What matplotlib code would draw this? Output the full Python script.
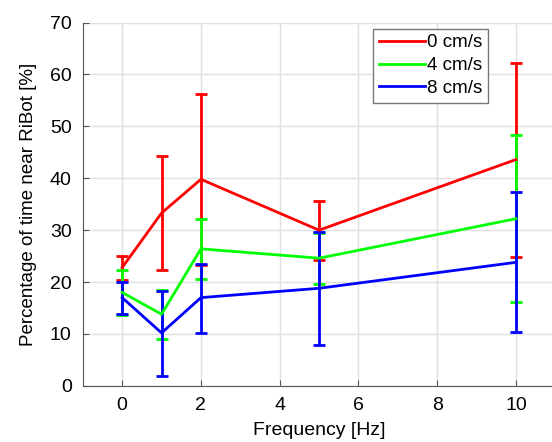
import matplotlib

matplotlib.use("Agg")
import matplotlib.pyplot as plt
import numpy as np
from matplotlib.lines import Line2D

plt.rcParams["font.family"] = ["Liberation Sans", "DejaVu Sans"]

frequencies = [0, 1, 2, 5, 10]
speed_labels = ["0 cm/s", "4 cm/s", "8 cm/s"]
series_colors = ["#FF0000", "#00FF00", "#0000FF"]

mean_0 = [22.8, 33.3, 39.8, 30.0, 43.6]
lower_0 = [20.4, 22.4, 23.3, 24.2, 24.8]
upper_0 = [25.0, 44.2, 56.3, 35.6, 62.3]

mean_4 = [18.0, 13.8, 26.4, 24.6, 32.2]
lower_4 = [13.6, 9.0, 20.5, 19.7, 16.2]
upper_4 = [22.3, 18.4, 32.1, 29.4, 48.3]

mean_8 = [17.0, 10.2, 17.0, 18.8, 23.8]
lower_8 = [13.8, 1.9, 10.2, 7.9, 10.3]
upper_8 = [20.0, 18.2, 23.5, 29.7, 37.3]

figure = plt.figure(figsize=(5.52, 4.42), dpi=100)
axis = figure.add_axes([0.150, 0.127, 0.856, 0.822])

for label, color, mean, lower, upper in zip(
    speed_labels,
    series_colors,
    (mean_0, mean_4, mean_8),
    (lower_0, lower_4, lower_8),
    (upper_0, upper_4, upper_8),
):
    mean = np.asarray(mean)
    errors = [mean - np.asarray(lower), np.asarray(upper) - mean]
    axis.errorbar(
        frequencies,
        mean,
        yerr=errors,
        color=color,
        linewidth=2.0,
        elinewidth=2.0,
        capsize=4,
        capthick=2.0,
    )

axis.set_xlim(-1, 11)
axis.set_ylim(0, 70)
axis.set_xticks([0, 2, 4, 6, 8, 10])
axis.set_yticks(range(0, 71, 10))
axis.grid(color="#e0e0e0", linewidth=1.0)
axis.set_axisbelow(True)
axis.spines["top"].set_visible(False)
axis.spines["right"].set_visible(False)
for side in ("left", "bottom"):
    axis.spines[side].set_color("#555555")
axis.tick_params(direction="in", length=4, color="#555555", labelsize=14, pad=8)
axis.set_xlabel("Frequency [Hz]", fontsize=14, labelpad=6)
axis.set_ylabel("Percentage of time near RiBot [%]", fontsize=13.5, labelpad=9)

legend_handles = [Line2D([], [], color=color, linewidth=2.0) for color in series_colors]
legend = axis.legend(
    legend_handles,
    speed_labels,
    loc="upper left",
    bbox_to_anchor=(0.614, 0.983),
    fontsize=13.5,
    handlelength=2.5,
    handletextpad=0.1,
    labelspacing=0.3,
    borderpad=0.3,
    borderaxespad=0.0,
    fancybox=False,
    framealpha=1.0,
    edgecolor="#777777",
)

figure.savefig("out.png", dpi=100)
